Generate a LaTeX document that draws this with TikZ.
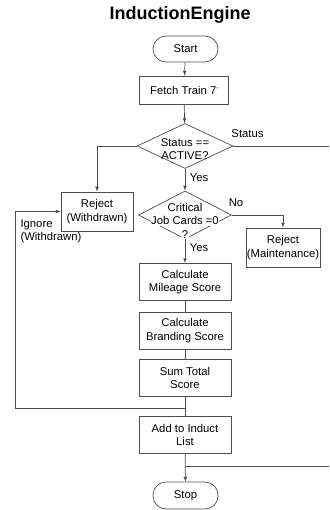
\documentclass[tikz,border=0pt]{standalone}
\usepackage{fontspec}
\setmainfont{Liberation Sans}
\usetikzlibrary{arrows,shapes,positioning,calc}
\setlength{\fboxsep}{0.6pt}

\begin{document}
\begin{tikzpicture}[x=1pt,y=-1pt,
  font=\fontsize{11.3}{13.5}\selectfont,
  lines/.style={draw=black!70,line width=0.7pt},
  arr/.style={lines,->,>=latex},
  term/.style={lines,rounded corners=13pt,minimum width=65pt,minimum height=26pt,inner sep=0pt},
  proc/.style={lines,minimum width=92pt,minimum height=37pt,inner sep=1pt,align=center},
  decision/.style={lines,diamond,inner sep=0pt}]
  \useasboundingbox (0,0) rectangle (329,510);

  \node[font=\bfseries\fontsize{18}{20}\selectfont] (title) at (180,15) {InductionEngine};

  \node[term] (start) at (185.5,49) {Start};
  \node[proc,minimum width=89pt,minimum height=28pt] (fetch) at (184,90) {Fetch Train 7\raisebox{2pt}{\scriptsize'}};
  \node[decision,minimum width=96pt,minimum height=45pt] (status) at (185,146) {};
  \node[align=center] (statustxt) at (185,149) {Status ==\\ACTIVE?};
  \node[proc,minimum width=72pt,minimum height=39pt] (rejw) at (97,211.5) {Reject\\(Withdrawn)};
  \node[decision,minimum width=93pt,minimum height=48pt] (crit) at (185,215) {};
  \node[align=center] (crittxt) at (185,221) {Critical\\\colorbox{white}{Job Cards =0}\\\colorbox{white}{?}};
  \node[proc,minimum width=72pt,minimum height=39pt] (rejm) at (283,247.5) {Reject\\(Maintenance)};
  \node[proc] (mileage) at (185,282) {Calculate\\Mileage Score};
  \node[proc] (branding) at (185,330.5) {Calculate\\Branding Score};
  \node[proc] (sum) at (185,378) {Sum Total\\Score};
  \node[proc] (induct) at (185,435) {Add to Induct\\List};
  \node[term,minimum height=27pt] (stop) at (185.5,495.5) {Stop};

  % labels
  \node (statuslbl) at (247.5,134) {Status};
  \node (yes1) at (199,178) {Yes};
  \node (nolbl) at (236,203) {No};
  \node (yes2) at (199,248) {Yes};
  \node[align=left,anchor=west] (ignorelbl) at (17,231.5) {Ignore\\(Withdrawn)};

  \coordinate (statusout) at (329,146);
  \coordinate (join) at (185,408);
  \coordinate (loopcorner) at (15,408);
  \coordinate (loopin) at (329,466);
  \coordinate (stopjoin) at (185,466);

  \draw[arr] (start) -- (fetch);
  \draw[arr] (fetch) -- (status);
  \draw[arr] (status.west) -| (rejw.north);
  \draw[lines] (status.east) -- (statusout);
  \draw[arr] (status.south) -- (crit.north);
  \draw[arr] (crit.east) -| (rejm.north);
  \draw[arr] (crit.south) -- (mileage.north);
  \draw[lines] (mileage) -- (branding);
  \draw[lines] (branding) -- (sum);
  \draw[lines] (sum) -- (induct);
  \draw[arr] (join) -- (loopcorner) |- (rejw.west);
  \draw[arr] (induct) -- (stop);
  \draw[lines] (loopin) -- (stopjoin);
\end{tikzpicture}
\end{document}
